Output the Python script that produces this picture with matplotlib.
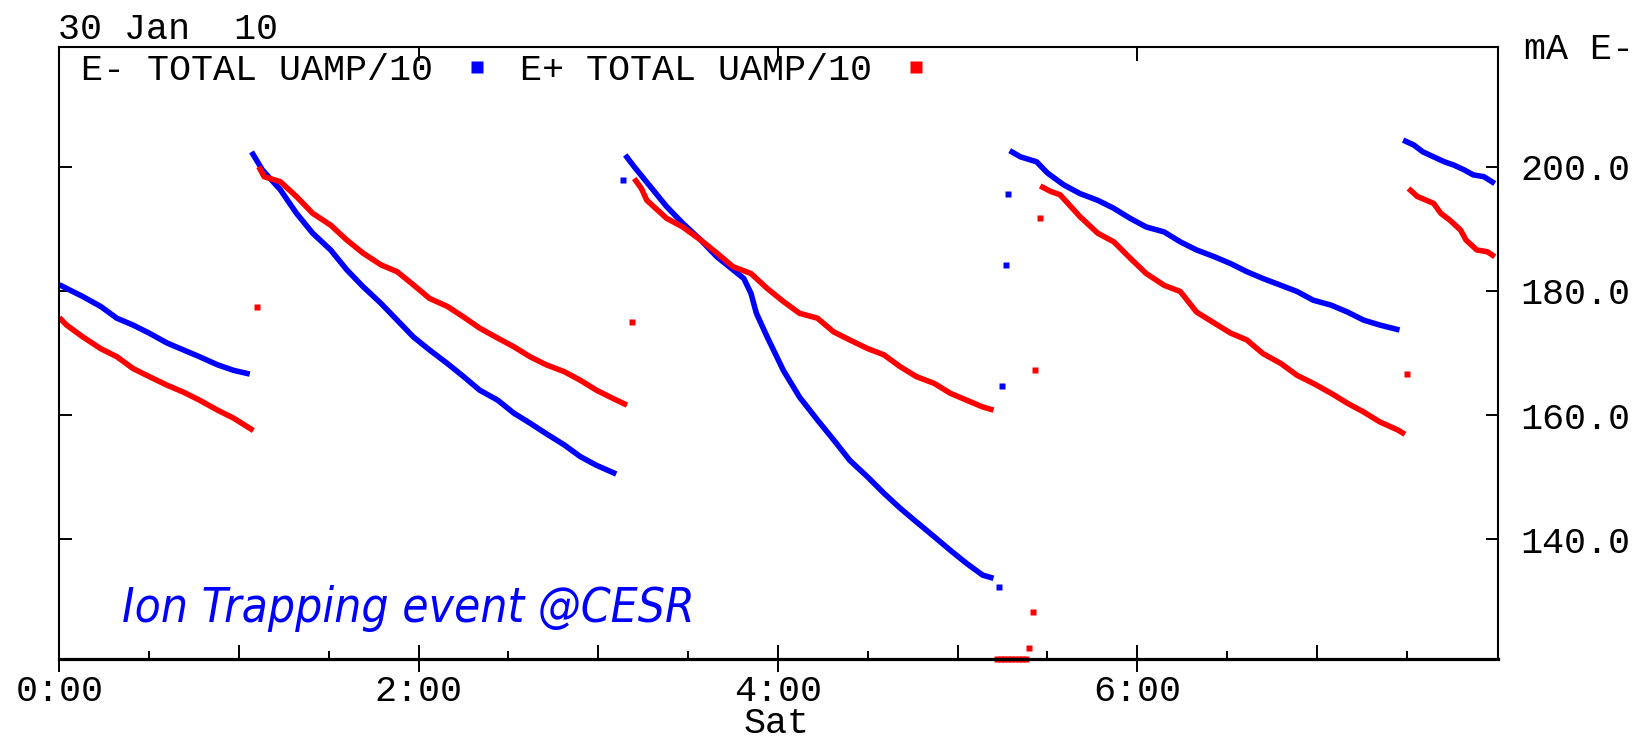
import numpy as np
import matplotlib.pyplot as plt
from matplotlib.ticker import FixedLocator, FuncFormatter
from matplotlib.lines import Line2D

nan = np.nan

# hours after midnight / beam current in mA, nan splits one fill from the next
e_minus_hr = [0.00, 0.04, 0.13, 0.23, 0.32, 0.41, 0.50, 0.60, 0.69, 0.78, 0.88, 0.97, 1.06, nan,
              1.07, 1.13, 1.23, 1.32, 1.41, 1.51, 1.60, 1.69, 1.79, 1.88, 1.97, 2.06, 2.16, 2.25,
              2.34, 2.44, 2.53, 2.62, 2.71, 2.81, 2.90, 2.99, 3.10, nan,
              3.15, 3.20, 3.29, 3.38, 3.47, 3.57, 3.66, 3.75, 3.81, 3.85, 3.88, 3.94, 4.03, 4.12,
              4.22, 4.31, 4.40, 4.50, 4.59, 4.68, 4.77, 4.87, 4.96, 5.05, 5.14, 5.20, nan,
              5.29, 5.35, 5.44, 5.50, 5.59, 5.68, 5.78, 5.87, 5.96, 6.05, 6.15, 6.24, 6.33, 6.43,
              6.52, 6.61, 6.70, 6.80, 6.89, 6.98, 7.08, 7.17, 7.26, 7.35, 7.46, nan,
              7.48, 7.54, 7.59, 7.65, 7.71, 7.76, 7.82, 7.87, 7.93, 7.99]
e_minus_ma = [181.0, 180.4, 179.1, 177.5, 175.6, 174.5, 173.2, 171.6, 170.5, 169.4, 168.1, 167.2, 166.6, nan,
              202.4, 199.5, 196.3, 192.5, 189.3, 186.6, 183.4, 180.7, 178.0, 175.3, 172.6, 170.5, 168.3, 166.2,
              164.0, 162.4, 160.3, 158.7, 157.0, 155.2, 153.3, 151.9, 150.5, nan,
              201.9, 200.0, 196.8, 193.6, 190.9, 188.2, 185.5, 183.4, 182.0, 179.6, 176.4, 172.6, 167.2, 162.9,
              159.2, 156.0, 152.7, 150.0, 147.4, 145.0, 142.8, 140.4, 138.2, 136.1, 134.2, 133.7, nan,
              202.6, 201.6, 200.8, 199.0, 197.1, 195.7, 194.6, 193.3, 191.7, 190.3, 189.5, 187.9, 186.6, 185.5,
              184.4, 183.1, 182.0, 180.9, 179.9, 178.5, 177.7, 176.6, 175.3, 174.5, 173.7, nan,
              204.3, 203.5, 202.4, 201.6, 200.8, 200.3, 199.5, 198.7, 198.4, 197.3]

e_plus_hr = [0.00, 0.04, 0.13, 0.23, 0.32, 0.41, 0.50, 0.60, 0.69, 0.78, 0.88, 0.97, 1.08, nan,
             1.11, 1.14, 1.23, 1.32, 1.41, 1.51, 1.60, 1.69, 1.79, 1.88, 1.97, 2.06, 2.16, 2.25,
             2.34, 2.44, 2.53, 2.62, 2.71, 2.81, 2.90, 2.99, 3.08, 3.16, nan,
             3.20, 3.24, 3.27, 3.38, 3.47, 3.57, 3.66, 3.75, 3.85, 3.94, 4.03, 4.12, 4.22, 4.31,
             4.40, 4.50, 4.59, 4.68, 4.77, 4.87, 4.96, 5.05, 5.14, 5.20, nan,
             5.46, 5.52, 5.57, 5.63, 5.68, 5.78, 5.87, 5.96, 6.05, 6.15, 6.24, 6.33, 6.43, 6.52,
             6.61, 6.70, 6.80, 6.89, 6.98, 7.08, 7.17, 7.26, 7.35, 7.45, 7.49, nan,
             7.51, 7.56, 7.61, 7.65, 7.69, 7.74, 7.80, 7.83, 7.89, 7.95, 7.99]
e_plus_ma = [175.7, 174.5, 172.6, 170.7, 169.4, 167.5, 166.2, 164.8, 163.7, 162.4, 160.8, 159.5, 157.5, nan,
             200.0, 198.4, 197.6, 195.2, 192.5, 190.6, 188.2, 186.1, 184.2, 183.1, 181.0, 178.8, 177.5, 175.8,
             174.0, 172.4, 171.0, 169.4, 168.1, 167.0, 165.6, 164.0, 162.7, 161.6, nan,
             198.1, 196.5, 194.6, 191.7, 190.3, 188.2, 186.1, 183.9, 182.8, 180.4, 178.3, 176.4, 175.6, 173.4,
             172.1, 170.7, 169.7, 167.8, 166.2, 165.1, 163.5, 162.4, 161.3, 160.8, nan,
             196.9, 196.0, 195.5, 193.6, 192.0, 189.3, 187.9, 185.3, 182.8, 180.9, 179.9, 176.6, 174.8, 173.2,
             172.1, 169.9, 168.3, 166.4, 165.1, 163.5, 161.9, 160.5, 158.9, 157.6, 156.9, nan,
             196.5, 195.2, 194.6, 194.1, 192.5, 191.4, 189.8, 188.2, 186.6, 186.3, 185.5]

# single readings during injection / beam loss
e_minus_stray_hr = [3.14, 5.23, 5.25, 5.27, 5.28]
e_minus_stray_ma = [197.9, 132.3, 164.6, 184.1, 195.6]
e_plus_stray_hr = [1.10, 3.19, 5.40, 5.42, 5.43, 5.46, 7.50]
e_plus_stray_ma = [177.4, 175.0, 122.5, 128.3, 167.2, 191.8, 166.6]
# E+ readings below the bottom of the scale, pinned to the floor
e_plus_floor_hr = [5.22, 5.24, 5.26, 5.28, 5.30, 5.32, 5.34, 5.36, 5.38]

y_ticks = [140, 160, 180, 200]
YLO, YHI = 120.7, 219.3
XHI = 8.01

BLUE = '#0000ff'
RED = '#ff0000'
MONO = 'Liberation Mono'
FS = 26.5

fig = plt.figure(figsize=(16.35, 7.41), dpi=100)
ax = fig.add_axes([0.0363, 0.1107, 0.8801, 0.8259])

ax.plot(e_minus_hr, e_minus_ma, color=BLUE, lw=4.0, solid_capstyle='butt')
ax.plot(e_plus_hr, e_plus_ma, color=RED, lw=4.0, solid_capstyle='butt')
ax.plot(e_minus_stray_hr, e_minus_stray_ma, ls='none', marker='s', ms=5, mec='none', color=BLUE)
ax.plot(e_plus_stray_hr, e_plus_stray_ma, ls='none', marker='s', ms=5, mec='none', color=RED)
ax.plot(e_plus_floor_hr, [YLO] * len(e_plus_floor_hr), ls='none', marker='s', ms=5,
        mec='none', color=RED, clip_on=False)

ax.set_xlim(0, XHI)
ax.set_ylim(YLO, YHI)

for s in ax.spines.values():
    s.set_linewidth(1.5)
ax.spines['bottom'].set_linewidth(2.3)

# time axis: hour ticks, half-hour minor ticks, labels every two hours
ax.xaxis.set_major_locator(FixedLocator(range(0, 8)))
ax.xaxis.set_minor_locator(FixedLocator(np.arange(0.5, 8, 1.0)))
ax.xaxis.set_major_formatter(FuncFormatter(lambda x, p: '%d:00' % x if int(x) % 2 == 0 else ''))
ax.tick_params(axis='x', which='major', direction='in', length=10, width=1.4, pad=11,
               labelsize=FS, top=False)
ax.tick_params(axis='x', which='minor', direction='in', length=6, width=1.4, top=False)

bot = ax.secondary_xaxis('bottom')
bot.set_xticks([0, 2, 4, 6])
bot.tick_params(direction='out', length=9, width=1.4, labelbottom=False)
bot.spines['bottom'].set_visible(False)

top = ax.secondary_xaxis('top')
top.set_xticks([2, 4, 6])
top.tick_params(direction='in', length=10, width=1.4, labeltop=False)
top.spines['top'].set_visible(False)

ax.yaxis.set_major_locator(FixedLocator(y_ticks))
ax.yaxis.set_major_formatter(FuncFormatter(lambda y, p: '%.1f' % y))
ax.tick_params(axis='y', direction='in', length=9, width=1.4, left=True, right=True,
               labelleft=False, labelright=True, pad=16, labelsize=FS)

for lab in ax.get_xticklabels() + ax.get_yticklabels():
    lab.set_fontfamily(MONO)

h_minus = Line2D([], [], ls='none', marker='s', ms=8.5, mec='none', color=BLUE)
h_plus = Line2D([], [], ls='none', marker='s', ms=8.5, mec='none', color=RED)
ax.legend([h_minus, h_plus], ['E- TOTAL UAMP/10', 'E+ TOTAL UAMP/10'], ncol=2,
          markerfirst=False, frameon=False, loc='center left', bbox_to_anchor=(0.0152, 0.962),
          borderaxespad=0, borderpad=0, handlelength=0.4, handletextpad=1.0,
          columnspacing=0.95, prop={'family': MONO, 'size': FS})

fig.text(0.0355, 0.948, '30 Jan  10', family=MONO, fontsize=FS, va='baseline')
fig.text(0.932, 0.92, 'mA E-', family=MONO, fontsize=FS, va='baseline')
fig.text(0.4751, 0.0105, 'Sat', family=MONO, fontsize=FS, va='baseline', ha='center')

note = ax.text(0.0435, 0.061, 'Ion Trapping event @CESR', transform=ax.transAxes, color=BLUE,
               style='italic', fontsize=40, va='baseline', fontstretch='condensed',
               family='DejaVu Sans')

# keep the note about as wide as the lettering it stands for
fig.canvas.draw()
width_px = note.get_window_extent().width
if width_px > 572:
    note.set_fontsize(40 * 572 / width_px)

fig.savefig('out.png', dpi=100)
